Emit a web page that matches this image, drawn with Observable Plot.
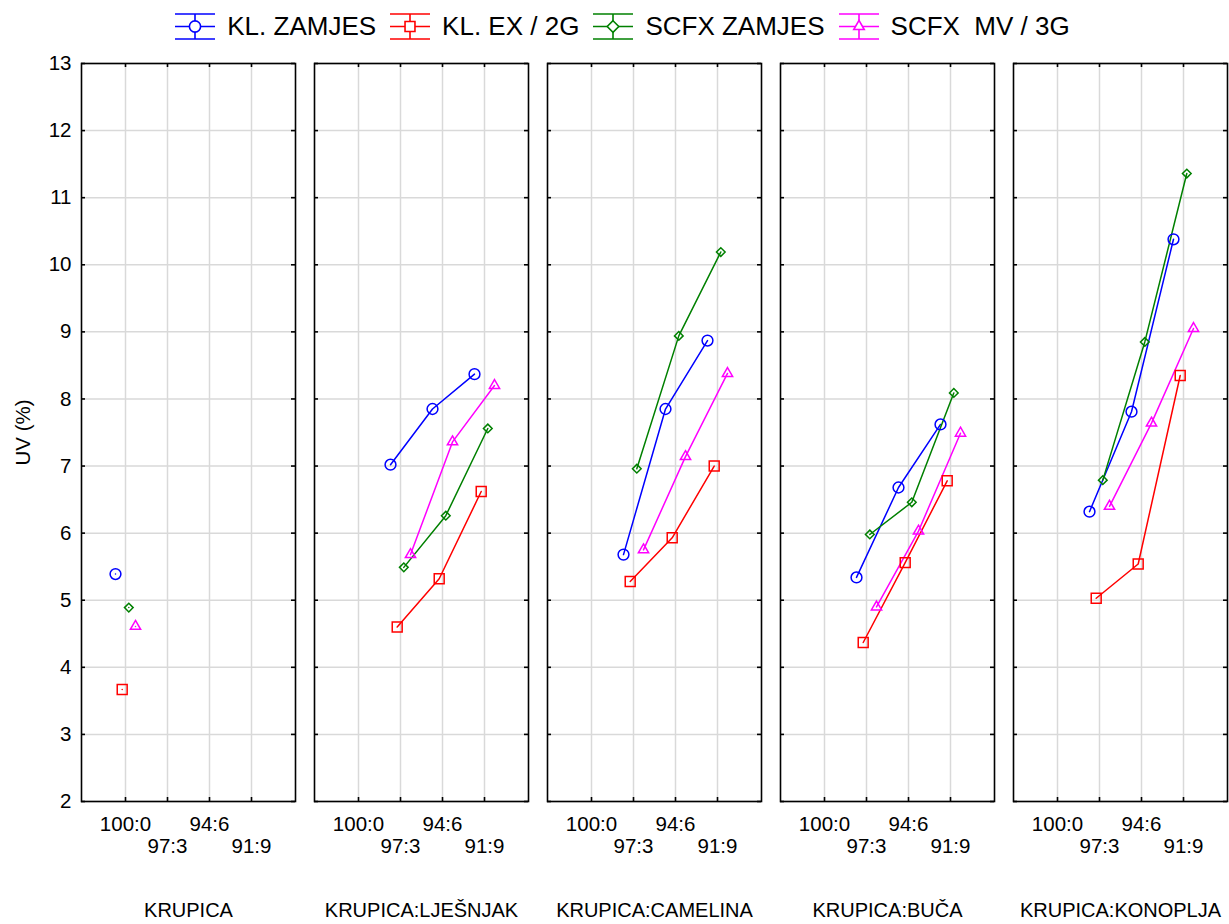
<!DOCTYPE html>
<html>
<head>
<meta charset="utf-8">
<script src="https://cdn.jsdelivr.net/npm/d3@7"></script>
<script src="https://cdn.jsdelivr.net/npm/@observablehq/plot@0.6"></script>
<style>
  body { margin: 0; background: #fff; font-family: "Liberation Sans", Arial, sans-serif; }
  #legend { height: 52px; display: flex; justify-content: center; align-items: center; gap: 14px; font-size: 26px; padding-left: 16px; box-sizing: border-box; }
  .item { display: flex; align-items: center; gap: 12px; white-space: pre; color: #000; }
</style>
</head>
<body>
<div id="legend"></div>
<div id="chart"></div>
<script>
// ---- data ----
const groups = ["KRUPICA", "KRUPICA:LJEŠNJAK", "KRUPICA:CAMELINA", "KRUPICA:BUČA", "KRUPICA:KONOPLJA"];
const ratios = ["100:0", "97:3", "94:6", "91:9"];
const xRow1 = ["100:0", "94:6"];
const xRow2 = ["97:3", "91:9"];
const yTicks = [2, 3, 4, 5, 6, 7, 8, 9, 10, 11, 12, 13];
const series = ["KL. ZAMJES", "KL. EX / 2G", "SCFX ZAMJES", "SCFX  MV / 3G"];
const colors = ["#0000ff", "#ff0000", "#008000", "#ff00ff"];
const symbols = ["circle", "square", "diamond2", "triangle2"];
const radii = [5.4, 5.6, 3.9, 4.9];
const legendRadii = [5.6, 5.6, 5.2, 5.0];
const offsets = [-10, -3.3, 3.3, 10];

// values per group: first group only at 100:0, others at 97:3, 94:6, 91:9
const klZamjes   = [[5.39], [7.02, 7.85, 8.37], [5.68, 7.85, 8.87], [5.34, 6.68, 7.62], [6.32, 7.81, 10.38]];
const klEx       = [[3.67], [4.60, 5.32, 6.62], [5.28, 5.93, 7.00], [4.37, 5.56, 6.78], [5.03, 5.54, 8.35]];
const scfxZamjes = [[4.89], [5.49, 6.26, 7.56], [6.96, 8.94, 10.19], [5.98, 6.46, 8.09], [6.79, 8.85, 11.36]];
const scfxMv     = [[4.61], [5.68, 7.36, 8.20], [5.75, 7.14, 8.38], [4.90, 6.03, 7.49], [6.40, 7.64, 9.05]];

const valuesBySeries = [klZamjes, klEx, scfxZamjes, scfxMv];
const rows = [];
series.forEach((s, si) => valuesBySeries[si].forEach((vals, gi) => vals.forEach((v, j) => {
  rows.push({series: s, group: groups[gi], ratio: gi === 0 ? ratios[j] : ratios[j + 1], value: v});
})));

// ---- legend ----
const legend = document.getElementById("legend");
const symMap = {circle: d3.symbolCircle, square: d3.symbolSquare, diamond2: d3.symbolDiamond2, triangle2: d3.symbolTriangle2};
series.forEach((s, i) => {
  const item = document.createElement("div");
  item.className = "item";
  const size = Math.PI * legendRadii[i] * legendRadii[i];
  const path = d3.symbol(symMap[symbols[i]], size)();
  item.innerHTML = `<svg width="40" height="27" style="overflow:visible">
    <g stroke="${colors[i]}" stroke-width="1.6" fill="none">
      <line x1="0" x2="40" y1="1" y2="1"/>
      <line x1="0" x2="40" y1="13.5" y2="13.5"/>
      <line x1="0" x2="40" y1="26" y2="26"/>
      <line x1="20" x2="20" y1="1" y2="26"/>
      <path d="${path}" transform="translate(20,13.5)" fill="white"/>
    </g></svg><span>${s}</span>`;
  legend.appendChild(item);
});

// ---- chart ----
const frameH = 738;
const marks = [
  Plot.gridY(yTicks, {stroke: "#d9d9d9", strokeOpacity: 1, strokeWidth: 1.5}),
  Plot.gridX(ratios, {stroke: "#d9d9d9", strokeOpacity: 1, strokeWidth: 1.5}),
  Plot.frame({stroke: "#000", strokeWidth: 1.6}),
  Plot.tickY(yTicks, {y: d => d, insetRight: 210, stroke: "#000", strokeWidth: 1.6}),
  Plot.tickY(yTicks, {y: d => d, insetLeft: 210, stroke: "#000", strokeWidth: 1.6}),
  Plot.tickX(ratios, {x: d => d, insetTop: frameH - 4, stroke: "#000", strokeWidth: 1.6}),
  Plot.tickX(ratios, {x: d => d, insetBottom: frameH - 4, stroke: "#000", strokeWidth: 1.6}),
];
series.forEach((s, i) => {
  const data = rows.filter(r => r.series === s);
  marks.push(Plot.line(data, {fx: "group", x: "ratio", y: "value", stroke: colors[i], strokeWidth: 1.5, dx: offsets[i]}));
});
series.forEach((s, i) => {
  const data = rows.filter(r => r.series === s);
  marks.push(Plot.dot(data, {fx: "group", x: "ratio", y: "value", symbol: symbols[i], r: radii[i], stroke: colors[i], fill: "none", strokeWidth: 1.5, dx: offsets[i]}));
});
marks.push(
  Plot.axisY(yTicks, {anchor: "left", tickSize: 0, tickPadding: 10, fontSize: 20.5, tickFormat: d3.format("d"), label: "UV (%)", labelAnchor: "center", labelArrow: "none", labelOffset: 66}),
  Plot.axisX(xRow1, {anchor: "bottom", tickSize: 0, tickPadding: 15, fontSize: 20.5, label: null}),
  Plot.axisX(xRow2, {anchor: "bottom", tickSize: 0, tickPadding: 37, fontSize: 20.5, label: null}),
  Plot.axisFx({anchor: "bottom", tickSize: 0, tickPadding: 101, fontSize: 20, label: null})
);

const chart = Plot.plot({
  width: 1229,
  height: 872,
  marginTop: 11,
  marginBottom: 123,
  marginLeft: 80,
  marginRight: 2,
  style: {fontFamily: "'Liberation Sans', Arial, sans-serif", fontSize: "20px", color: "#000", background: "#fff"},
  fx: {domain: groups, paddingInner: 0.0825, paddingOuter: 0, label: null},
  x: {type: "point", domain: ratios, padding: 1, label: null},
  y: {domain: [2, 13], label: "UV (%)"},
  marks
});
document.getElementById("chart").appendChild(chart);
</script>
</body>
</html>
